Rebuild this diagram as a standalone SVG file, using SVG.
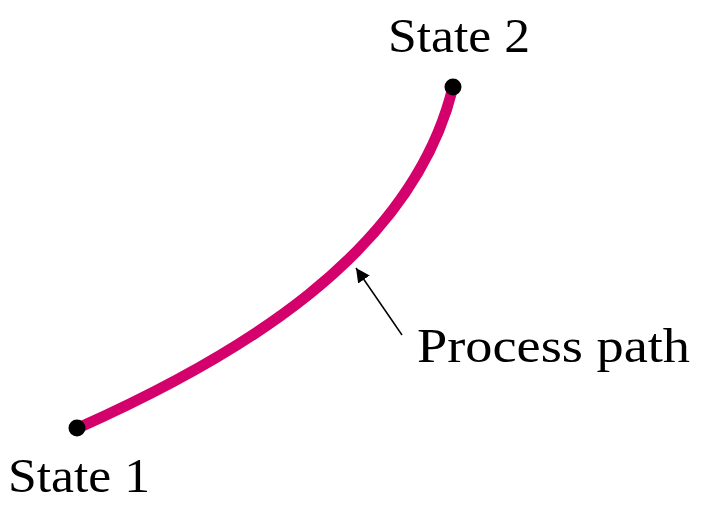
<svg xmlns="http://www.w3.org/2000/svg" width="701" height="505" viewBox="0 0 701 505">
<defs>
<style>
.lbl{font-family:"Liberation Serif","Times New Roman",serif;font-size:48px;fill:#000}
.path{fill:none;stroke:#d4006c;stroke-width:11;stroke-linecap:butt}
.dot{fill:#000}
</style>
<marker id="ah" viewBox="0 0 10 10" refX="10" refY="5" markerWidth="14" markerHeight="14" markerUnits="userSpaceOnUse" orient="auto">
<path d="M0,0 L10,5 L0,10 Z" fill="#000"/>
</marker>
</defs>
<rect width="701" height="505" fill="#fff"/>
<g id="connectors">
<path id="process-path" class="path" d="M78,428 C235,358 412,255 453,87"/>
<line x1="402" y1="335" x2="356" y2="268" stroke="#000" stroke-width="1.5" marker-end="url(#ah)"/>
</g>
<g id="state1">
<circle class="dot" cx="77" cy="428" r="8.5"/>
<text class="lbl" x="8" y="492" textLength="142" lengthAdjust="spacingAndGlyphs">State 1</text>
</g>
<g id="state2">
<circle class="dot" cx="453" cy="87" r="8.5"/>
<text class="lbl" x="388" y="52" textLength="142" lengthAdjust="spacingAndGlyphs">State 2</text>
</g>
<g id="label-process">
<text class="lbl" x="417" y="362" textLength="273" lengthAdjust="spacingAndGlyphs">Process path</text>
</g>
</svg>
